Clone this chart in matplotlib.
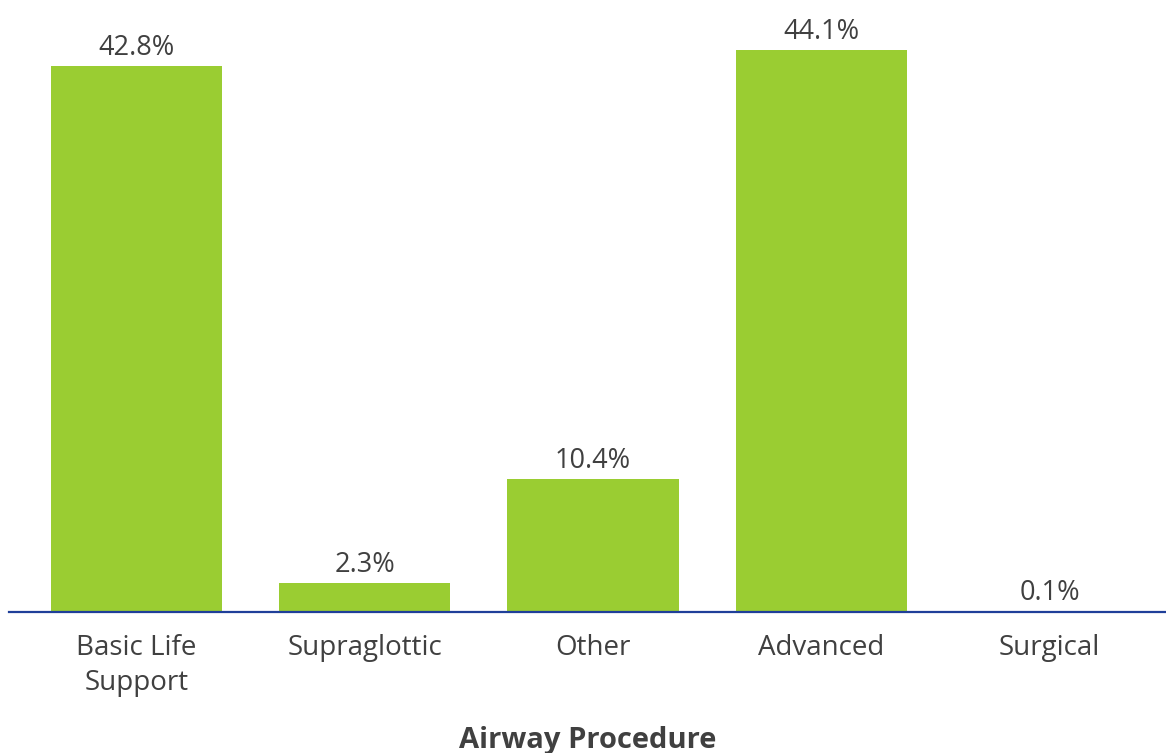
import matplotlib.pyplot as plt

categories = ["Basic Life\nSupport", "Supraglottic", "Other", "Advanced", "Surgical"]
values = [42.8, 2.3, 10.4, 44.1, 0.1]
labels = ["42.8%", "2.3%", "10.4%", "44.1%", "0.1%"]

plt.rcParams['font.family'] = ['Open Sans', 'DejaVu Sans']

fig = plt.figure(figsize=(11.66, 7.53), dpi=100)
ax = fig.add_axes([9 / 1166, 141 / 753, 1157 / 1166, 612 / 753])

x = range(len(categories))
bars = ax.bar(x, values, width=0.75, color="#9ACD32", zorder=2)

for b, lab in zip(bars, labels):
    ax.annotate(lab, (b.get_x() + b.get_width() / 2, b.get_height()),
                xytext=(0, 3), textcoords="offset points",
                ha="center", va="bottom", fontsize=19.5, color="#404040")

ax.set_xlim(-0.558, 4.51)
ax.set_ylim(0, 48)
ax.set_xticks(list(x))
ax.set_xticklabels(categories, fontsize=20, color="#404040", linespacing=1.3)
ax.tick_params(axis="x", length=0, pad=16)
ax.set_yticks([])
for side in ["top", "right", "left"]:
    ax.spines[side].set_visible(False)
ax.spines["bottom"].set_color("#1F3F99")
ax.spines["bottom"].set_linewidth(1.6)
ax.spines["bottom"].set_zorder(3)

ax.set_xlabel("Airway Procedure", fontsize=21, fontweight="bold", color="#404040", labelpad=21)

fig.savefig("out.png", dpi=100)
